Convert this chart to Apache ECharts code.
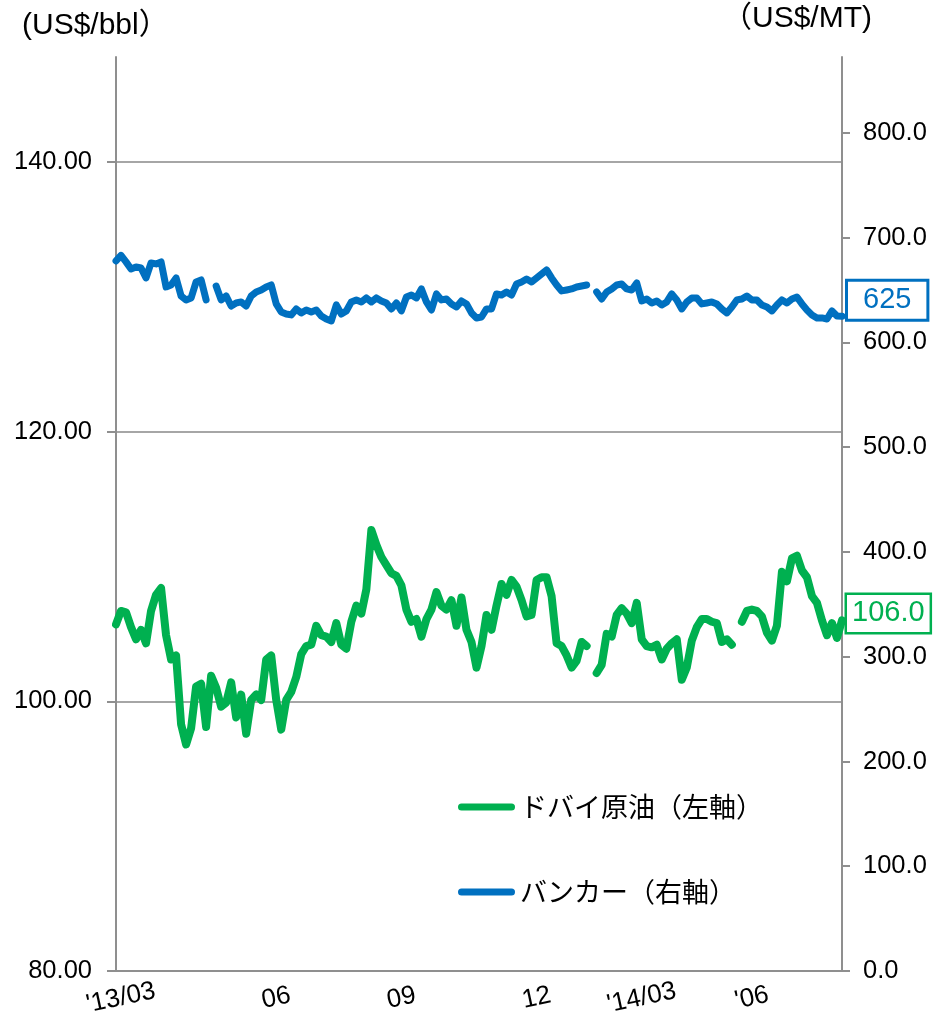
<!DOCTYPE html>
<html>
<head>
<meta charset="utf-8">
<script src="https://cdn.jsdelivr.net/npm/echarts@6/dist/echarts.min.js"></script>
<style>
html,body{margin:0;padding:0;background:#fff;}
#chart{width:936px;height:1019px;}
</style>
</head>
<body>
<div id="chart"></div>
<script>
// Bunker price (US$/MT, right axis), sampled along the period
const bunkerValues = [
677.8, 683.1, 676.9, 670.2, 672.1, 671.1, 661.6, 675.9, 675.0, 676.9,
653.0, 654.9, 661.6, 644.4, 640.6, 642.5, 657.8, 659.7, 640.6, null,
653.9, 640.6, 644.4, 634.8, 637.7, 638.7, 634.8, 644.4, 648.2, 650.1,
653.0, 654.9, 636.8, 629.1, 627.2, 626.3, 632.0, 628.2, 631.0, 629.1,
631.0, 625.3, 622.4, 620.5, 635.8, 627.2, 630.1, 638.7, 640.6, 638.7,
642.5, 638.7, 642.5, 639.6, 637.7, 632.0, 637.7, 630.1, 643.4, 645.3,
642.5, 651.1, 638.7, 631.0, 646.3, 640.6, 641.5, 636.8, 633.9, 639.6,
636.8, 628.2, 623.4, 624.3, 632.0, 632.0, 646.3, 645.3, 648.2, 645.3,
655.8, 657.8, 660.6, 657.8, 661.6, 665.4, 669.2, 661.6, 654.9, 649.2,
650.1, 651.1, 653.0, 653.9, 654.9, null, 648.2, 641.5, 648.2, 651.1,
654.9, 655.8, 651.1, 650.1, 656.8, 639.6, 641.5, 637.7, 639.6, 635.8,
638.7, 646.3, 640.6, 632.0, 638.7, 642.5, 642.5, 636.8, 637.7, 638.7,
636.8, 632.0, 628.2, 633.9, 640.6, 641.5, 644.4, 640.6, 640.6, 635.8,
633.9, 630.1, 635.8, 640.6, 637.7, 641.5, 643.4, 636.8, 631.0, 626.3,
623.4, 623.4, 622.4, 630.1, 625.3, 625
];
// Dubai crude (US$/bbl, left axis)
const dubaiValues = [
105.7, 106.7, 106.6, 105.5, 104.6, 105.3, 104.3, 106.7, 107.9, 108.4,
104.9, 103.1, 103.4, 98.3, 96.8, 98.0, 101.1, 101.3, 98.1, 101.9,
101.0, 99.6, 99.9, 101.4, 98.8, 100.5, 97.6, 100.1, 100.5, 100.1,
103.1, 103.4, 100.1, 97.9, 100.1, 100.7, 101.8, 103.5, 104.1, 104.2,
105.6, 104.9, 104.8, 104.4, 105.8, 104.2, 103.9, 105.9, 107.1, 106.5,
108.3, 112.7, 111.6, 110.7, 110.1, 109.5, 109.3, 108.6, 106.8, 105.9,
106.1, 104.8, 106.1, 106.8, 108.1, 107.1, 106.8, 107.5, 105.6, 107.7,
105.3, 104.4, 102.5, 104.1, 106.4, 105.3, 107.1, 108.7, 107.9, 109.0,
108.5, 107.5, 106.3, 106.4, 109.0, 109.2, 109.2, 107.8, 104.3, 104.1,
103.4, 102.5, 103.0, 104.4, 104.1, null, 102.1, 102.7, 105.0, 104.8,
106.4, 106.9, 106.5, 105.8, 107.3, 104.6, 104.1, 104.0, 104.2, 103.1,
103.9, 104.3, 104.6, 101.6, 102.5, 104.5, 105.5, 106.1, 106.1, 105.9,
105.8, 104.4, 104.6, 104.2, null, 105.9, 106.7, 106.8, 106.7, 106.3,
105.1, 104.5, 105.6, 109.6, 108.9, 110.6, 110.8, 109.7, 109.2, 107.8,
107.3, 106.0, 104.9, 105.8, 104.7, 106.0
];
const categories = dubaiValues.map((_, i) => i);
const xTickLabels = ["'13/03", "06", "09", "12", "'14/03", "'06"];
const xTickIndex = [1, 32, 57, 84, 105, 127];
const leftTicks = [80, 100, 120, 140];
const rightTicks = [0, 100, 200, 300, 400, 500, 600, 700, 800];
const seriesNames = ['ドバイ原油（左軸）', 'バンカー（右軸）'];

const GREEN = '#00B050', BLUE = '#0070C0', AX = '#8f8f8f';
const FONT = '"Liberation Sans", Arial, "Noto Sans CJK JP", sans-serif';
const ICON = 'path://M3.5,0 L53.5,0 A3.5,3.5 0 0 1 53.5,7 L3.5,7 A3.5,3.5 0 0 1 3.5,0 Z';
const chart = echarts.init(document.getElementById('chart'));
chart.setOption({
  animation: false,
  backgroundColor: '#fff',
  grid: {left: 116, right: 94, top: 57, bottom: 48, containLabel: false},
  graphic: [
    {type: 'text', left: 22, top: 11, style: {text: '(US$/bbl）', font: '30px ' + FONT, fill: '#000'}},
    {type: 'text', left: 722, top: 4, style: {text: '（US$/MT)', font: '30px ' + FONT, fill: '#000'}}
  ],
  legend: {
    orient: 'vertical', left: 458, top: 792, itemGap: 55, padding: 0,
    itemWidth: 57, itemHeight: 7,
    textStyle: {fontSize: 27, fontFamily: '"Noto Sans CJK JP", sans-serif', color: '#000', lineHeight: 30},
    data: [
      {name: seriesNames[0], icon: ICON},
      {name: seriesNames[1], icon: ICON}
    ]
  },
  xAxis: {
    type: 'category', data: categories, boundaryGap: false,
    axisLine: {lineStyle: {color: AX, width: 2}},
    axisTick: {show: false},
    axisLabel: {
      interval: (i) => xTickIndex.indexOf(i) >= 0,
      formatter: (v, i) => { const k = xTickIndex.indexOf(i); return k >= 0 ? xTickLabels[k] : ''; },
      rotate: 12, align: 'center', verticalAlign: 'middle', margin: 27,
      fontSize: 26, fontFamily: FONT, color: '#000'
    }
  },
  yAxis: [
    {
      type: 'value', min: 80, max: 147.78, position: 'left',
      axisLine: {show: true, lineStyle: {color: AX, width: 2}},
      axisTick: {show: true, inside: false, length: 9, customValues: leftTicks, lineStyle: {color: AX, width: 2}},
      axisLabel: {customValues: leftTicks, formatter: (v) => v.toFixed(2), fontSize: 25.5, fontFamily: FONT, color: '#000', margin: 24},
      splitLine: {show: true, lineStyle: {color: '#a6a6a6', width: 2}}
    },
    {
      type: 'value', min: 0, max: 872.5, position: 'right',
      axisLine: {show: true, lineStyle: {color: AX, width: 2}},
      axisTick: {show: true, inside: false, length: 8, customValues: rightTicks, lineStyle: {color: AX, width: 2}},
      axisLabel: {customValues: rightTicks, formatter: (v) => v.toFixed(1), fontSize: 25.5, fontFamily: FONT, color: '#000', margin: 21},
      splitLine: {show: false}
    }
  ],
  series: [
    {
      name: seriesNames[0], type: 'line', yAxisIndex: 0, data: dubaiValues,
      showSymbol: false, symbol: 'none', connectNulls: false,
      lineStyle: {color: GREEN, width: 8, cap: 'round', join: 'round'},
      itemStyle: {color: GREEN},
      endLabel: {
        show: true, formatter: (p) => Number(p.value).toFixed(1),
        color: GREEN, fontSize: 29, fontFamily: FONT,
        backgroundColor: '#fff', borderColor: GREEN, borderWidth: 2.5,
        padding: [5, 5, 3, 5], distance: 5, offset: [0, -7]
      }
    },
    {
      name: seriesNames[1], type: 'line', yAxisIndex: 1, data: bunkerValues,
      showSymbol: false, symbol: 'none', connectNulls: false,
      lineStyle: {color: BLUE, width: 7, cap: 'round', join: 'round'},
      itemStyle: {color: BLUE},
      endLabel: {
        show: true, formatter: (p) => String(Math.round(p.value)),
        color: BLUE, fontSize: 29, fontFamily: FONT,
        backgroundColor: '#fff', borderColor: BLUE, borderWidth: 3,
        padding: [5, 15, 3, 15], distance: 6, offset: [0, -16]
      }
    }
  ]
});
</script>
</body>
</html>
